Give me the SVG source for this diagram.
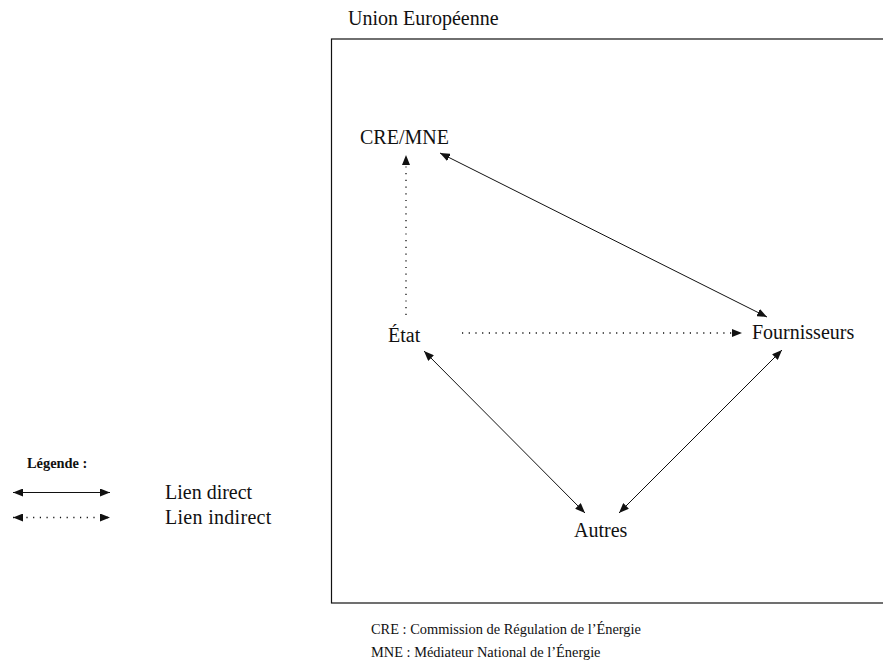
<svg xmlns="http://www.w3.org/2000/svg" width="883" height="662" viewBox="0 0 883 662">
<style>
text{font-family:"Liberation Serif","DejaVu Serif",serif;fill:#111}
.n{font-size:20px}
.s{font-size:14.4px}
.l{stroke:#111;stroke-width:1;fill:none}
.d{stroke:#111;stroke-width:1.3;fill:none;stroke-dasharray:1.2 5.5}
</style>
<defs>
<marker id="a" viewBox="0 0 10 8" refX="10" refY="4" markerWidth="10" markerHeight="8" markerUnits="userSpaceOnUse" orient="auto-start-reverse">
<path d="M0,0 L10,4 L0,8 z" fill="#111"/>
</marker>
</defs>
<rect x="331.5" y="39" width="600" height="564" fill="none" stroke="#111" stroke-width="1.2"/>
<text class="n" x="348" y="25">Union Européenne</text>
<g id="cre"><text class="n" x="360" y="144">CRE/MNE</text></g>
<g id="etat"><text class="n" x="388" y="342">État</text></g>
<g id="fournisseurs"><text class="n" x="752" y="339">Fournisseurs</text></g>
<g id="autres"><text class="n" x="574" y="537">Autres</text></g>
<g id="connectors">
<line class="l" x1="440" y1="153" x2="767" y2="317" marker-start="url(#a)" marker-end="url(#a)"/>
<line class="d" x1="406" y1="315" x2="406" y2="155" marker-end="url(#a)"/>
<line class="d" x1="462" y1="333" x2="742" y2="333" marker-end="url(#a)"/>
<line class="l" x1="424" y1="351" x2="585" y2="513" marker-start="url(#a)" marker-end="url(#a)"/>
<line class="l" x1="782" y1="350" x2="619" y2="513" marker-start="url(#a)" marker-end="url(#a)"/>
</g>
<g id="legende">
<text class="s" x="27" y="468" font-size="14" font-weight="bold">Légende :</text>
<line class="l" x1="13" y1="492.5" x2="110" y2="492.5" marker-start="url(#a)" marker-end="url(#a)"/>
<line class="d" x1="13" y1="517.5" x2="110" y2="517.5" marker-start="url(#a)" marker-end="url(#a)"/>
<text class="n" x="165" y="499">Lien direct</text>
<text class="n" x="165" y="524" letter-spacing="0.3">Lien indirect</text>
</g>
<text class="s" x="371" y="634">CRE : Commission de Régulation de l’Énergie</text>
<text class="s" x="371" y="657">MNE : Médiateur National de l’Énergie</text>
</svg>
